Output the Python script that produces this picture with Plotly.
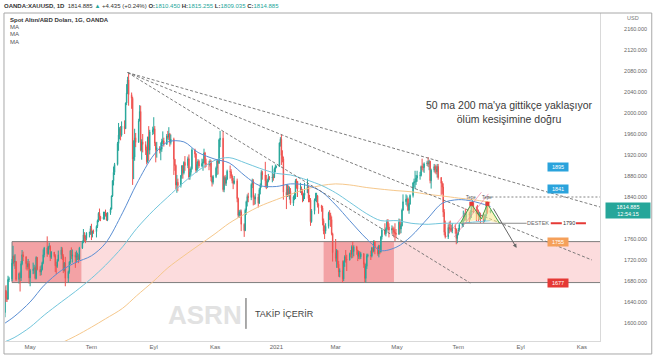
import pandas as pd
import plotly.graph_objects as go

# ---------------- daily candles: (close, high, low); open = previous close ----------------
first_open = 1591.0
apr20 = [(1613,1625,1590),(1620,1627,1605),(1662,1670,1611),(1648,1672,1640),(1645,1660,1640),
         (1683,1690,1645),(1684,1688,1678),(1714,1722,1680),(1727,1747,1712),(1716,1730,1708),
         (1717,1731,1703),(1683,1718,1680),(1694,1696,1675),(1686,1698,1660),(1713,1718,1680),
         (1730,1739,1710),(1726,1736,1718),(1713,1727,1702),(1707,1718,1700),(1713,1722,1703),
         (1686,1718,1675)]
may20 = [(1700,1703,1670),(1702,1715,1693),(1705,1711,1694),(1685,1708,1683),(1725,1727,1683),
         (1702,1723,1700),(1697,1708,1690),(1702,1710,1691),(1715,1717,1700),(1730,1740,1712),
         (1743,1745,1725),(1732,1765,1726),(1745,1747,1730),(1746,1753,1740),(1725,1748,1718),
         (1735,1737,1722),(1728,1735,1725),(1709,1731,1697),(1708,1716,1693),(1719,1722,1705),
         (1730,1738,1717)]
jun20 = [(1739,1745,1722),(1727,1744,1720),(1700,1731,1695),(1714,1716,1698),(1685,1726,1670),
         (1698,1700,1677),(1716,1718,1694),(1737,1739,1712),(1727,1744,1722),(1730,1740,1715),
         (1725,1735,1705),(1727,1738,1715),(1727,1734,1720),(1722,1731,1714),(1743,1745,1720),
         (1754,1757,1741),(1768,1779,1752),(1762,1773,1756),(1761,1767,1752),(1771,1773,1757),
         (1772,1774,1763),(1780,1785,1768)]
jul20 = [(1770,1789,1758),(1775,1776,1763),(1774,1778,1770),(1784,1786,1763),(1795,1797,1781),
         (1809,1811,1792),(1803,1818,1795),(1798,1804,1794),(1802,1812,1797),(1809,1812,1797),
         (1808,1816,1803),(1796,1810,1795),(1810,1811,1794),(1817,1820,1806),(1842,1843,1816),
         (1871,1872,1840),(1887,1898,1862),(1902,1905,1882),(1942,1945,1900),(1958,1981,1928),
         (1970,1973,1950),(1958,1975,1948),(1975,1984,1955)]
aug20 = [(1970,1986,1960),(2019,2020,1970),(2038,2055,2015),(2063,2069,2036),(2035,2075,2014),
         (2028,2039,2008),(1912,2031,1863),(1916,1948,1874),(1953,1970,1909),(1944,1962,1935),
         (1985,1989,1944),(2003,2015,1984),(1929,2014,1927),(1945,1950,1911),(1940,1960,1925),
         (1929,1946,1920),(1907,1936,1902),(1954,1955,1905),(1929,1975,1909),(1964,1968,1921),
         (1968,1974,1958)]
sep20 = [(1970,1992,1960),(1943,1975,1937),(1930,1945,1906),(1934,1945,1915),(1929,1937,1923),
         (1931,1944,1910),(1946,1951,1926),(1947,1965,1941),(1940,1953,1936),(1956,1960,1940),
         (1954,1966,1950),(1960,1973,1948),(1944,1962,1936),(1950,1959,1940),(1912,1953,1882),
         (1900,1912,1890),(1863,1902,1855),(1868,1882,1848),(1862,1875,1851),(1881,1882,1858),
         (1899,1901,1875),(1886,1901,1875)]
oct20 = [(1906,1908,1883),(1900,1918,1890),(1913,1917,1895),(1878,1921,1873),(1887,1894,1873),
         (1894,1898,1882),(1930,1933,1892),(1922,1932,1915),(1891,1924,1886),(1902,1907,1887),
         (1908,1912,1893),(1899,1911,1895),(1904,1913,1897),(1907,1912,1890),(1924,1932,1905),
         (1904,1926,1895),(1902,1913,1897),(1902,1909,1891),(1908,1912,1898),(1878,1910,1870),
         (1868,1880,1860),(1879,1882,1864)]
nov20 = [(1895,1898,1876),(1909,1911,1882),(1904,1911,1883),(1949,1951,1905),(1952,1966,1935),
         (1854,1965,1850),(1877,1880,1849),(1866,1882,1862),(1874,1879,1861),(1889,1892,1872),
         (1888,1900,1875),(1880,1893,1876),(1871,1883,1866),(1866,1876,1855),(1871,1880,1864),
         (1837,1875,1830),(1805,1839,1800),(1811,1815,1800),(1812,1816,1803),(1788,1816,1775),
         (1776,1790,1764)]
dec20 = [(1815,1818,1775),(1831,1833,1806),(1841,1845,1822),(1839,1848,1830),(1864,1866,1834),
         (1871,1875,1857),(1839,1874,1824),(1836,1843,1825),(1840,1847,1826),(1828,1846,1820),
         (1854,1857,1827),(1863,1866,1845),(1887,1891,1858),(1882,1890,1873),(1871,1907,1858),
         (1859,1882,1855),(1870,1874,1857),(1877,1884,1868),(1876,1880,1872),(1878,1900,1868),
         (1877,1884,1871),(1893,1896,1876),(1898,1902,1887)]
jan21 = [(1898,1900,1895),(1943,1944,1900),(1950,1954,1936),(1919,1959,1901),(1913,1929,1906),
         (1849,1917,1835),(1844,1864,1817),(1856,1864,1840),(1845,1862,1841),(1851,1860,1835),
         (1828,1857,1825),(1840,1843,1823),(1840,1849,1834),(1871,1874,1836),(1870,1875,1856),
         (1855,1869,1840),(1856,1867,1848),(1850,1860,1844),(1842,1855,1830),(1843,1847,1832),
         (1848,1867,1836)]
feb21 = [(1860,1875,1848),(1837,1862,1830),(1834,1844,1830),(1793,1838,1785),(1814,1817,1791),
         (1834,1837,1807),(1838,1848,1832),(1842,1848,1830),(1825,1844,1820),(1824,1828,1808),
         (1819,1825,1812),(1795,1823,1786),(1775,1799,1769),(1775,1786,1760),(1784,1790,1770),
         (1809,1812,1780),(1806,1815,1796),(1797,1810,1783),(1770,1803,1767),(1734,1772,1717)]
mar21 = [(1723,1760,1717),(1738,1741,1705),(1712,1738,1705),(1697,1718,1688),(1700,1704,1687),
         (1684,1719,1677),(1716,1719,1680),(1726,1729,1707),(1722,1739,1715),(1720,1730,1699),
         (1732,1734,1719),(1731,1739,1725),(1745,1748,1723),(1736,1755,1724),(1745,1748,1727),
         (1739,1747,1730),(1727,1739,1718),(1734,1737,1722),(1726,1737,1721),(1732,1735,1722),
         (1712,1733,1705),(1685,1715,1677),(1708,1713,1677)]
apr21 = [(1728,1732,1703),(1729,1732,1725),(1728,1738,1720),(1743,1745,1725),(1737,1744,1733),
         (1756,1758,1735),(1744,1756,1731),(1732,1746,1728),(1747,1749,1725),(1736,1748,1731),
         (1764,1766,1734),(1777,1781,1759),(1770,1790,1767),(1779,1782,1765),(1793,1797,1774),
         (1783,1798,1777),(1777,1790,1763),(1780,1786,1770),(1778,1784,1768),(1773,1782,1763),
         (1771,1790,1756),(1769,1779,1762)]
may21 = [(1792,1799,1768),(1779,1798,1770),(1785,1789,1771),(1815,1818,1784),(1831,1845,1814),
         (1836,1845,1825),(1836,1843,1822),(1815,1839,1813),(1826,1829,1808),(1843,1845,1826),
         (1867,1868,1839),(1869,1875,1858),(1869,1890,1855),(1876,1882,1863),(1881,1890,1869),
         (1881,1888,1873),(1898,1900,1879),(1897,1913,1891),(1896,1904,1888),(1903,1906,1886),
         (1905,1909,1899)]
jun21 = [(1903,1916,1897),(1908,1911,1891),(1871,1909,1866),(1891,1894,1856),(1898,1903,1887),
         (1893,1902,1885),(1888,1900,1883),(1898,1903,1877),(1877,1903,1873),(1866,1878,1844),
         (1859,1870,1846),(1811,1866,1802),(1773,1817,1767),(1764,1795,1761),(1782,1788,1760),
         (1779,1793,1771),(1779,1795,1775),(1776,1787,1773),(1781,1790,1771),(1779,1788,1770),
         (1761,1780,1750),(1770,1772,1752)]
jul21 = [(1777,1781,1767),(1787,1791,1774),(1791,1796,1782),(1796,1814,1783),(1803,1810,1794),
         (1802,1818,1795),(1808,1811,1795),(1806,1812,1791),(1809,1815,1797),(1826,1828,1800),
         (1829,1834,1821),(1812,1830,1810),(1812,1822,1794),(1810,1825,1807),(1803,1816,1794),
         (1806,1812,1797),(1802,1810,1790),(1797,1810,1791),(1799,1807,1792),(1806,1807,1795),
         (1829,1832,1803),(1810.45,1832,1808)]
aug21 = [(1814.885,1815.255,1809.035)]

# ---------------- moving averages ----------------
ma_dates = ['2020-04-03','2020-04-15','2020-05-01','2020-05-15','2020-06-01','2020-06-15',
            '2020-07-01','2020-07-15','2020-08-01','2020-08-15','2020-09-01','2020-09-15',
            '2020-10-01','2020-10-15','2020-11-01','2020-11-15','2020-12-01','2020-12-15',
            '2021-01-01','2021-01-15','2021-02-01','2021-02-15','2021-03-01','2021-03-15',
            '2021-04-01','2021-04-15','2021-05-01','2021-05-15','2021-06-01','2021-06-15',
            '2021-07-01','2021-07-15','2021-08-02']
ma50 = [1596,1612,1640,1672,1700,1715,1728,1752,1810,1865,1920,1945,1945,1925,1912,1905,1880,
        1862,1860,1865,1862,1850,1825,1795,1760,1738,1745,1765,1800,1828,1835,1832,1822]
ma100 = [1562,1572,1592,1615,1640,1660,1685,1710,1745,1780,1815,1840,1868,1890,1910,1915,1905,
         1895,1885,1882,1872,1862,1848,1830,1808,1795,1795,1790,1788,1790,1790,1792,1795]
ma200 = [1520,1528,1538,1548,1562,1575,1592,1608,1628,1652,1680,1705,1728,1747,1770,1790,1808,
         1822,1835,1845,1856,1862,1865,1863,1858,1855,1852,1850,1845,1842,1838,1835,1830]

# ---------------- axis ticks ----------------
y_ticks = [1600,1640,1680,1720,1760,1840,1880,1920,1960,2000,2040,2080,2120,2160]
x_tick_dates = ['2020-05-01','2020-07-01','2020-09-01','2020-11-01','2021-01-01',
                '2021-03-01','2021-05-01','2021-07-01','2021-09-01','2021-11-01']
x_tick_text = ['May','Tem','Eyl','Kas','2021','Mar','May','Tem','Eyl','Kas']

# ---------------- drawing objects ----------------
zone_low, zone_high = 1677, 1755
dark_boxes = [('2020-04-13','2020-06-21'),('2021-02-17','2021-04-28')]
trend_start = ('2020-08-06', 2077)
trend_ends = [('2021-11-19',1821),('2021-11-11',1720),('2021-07-13',1676)]
level_labels = [('1895',1898,'#2aa3dc'),('1841',1856,'#2aa3dc'),
                ('1755',1755,'#f5a05a'),('1677',1677,'#e53935')]
resistance = 1840
support = 1790
pattern_x = ['2021-07-03','2021-07-14','2021-07-24','2021-07-30','2021-08-11']
pattern_y = [1790,1827,1798,1827,1790]

# ---------------- build candles ----------------
months = [apr20,may20,jun20,jul20,aug20,sep20,oct20,nov20,dec20,jan21,feb21,
          mar21,apr21,may21,jun21,jul21,aug21]
rows = [r for m in months for r in m]
closes = [r[0] for r in rows]
opens = [first_open] + closes[:-1]
highs = [max(r[1], o, r[0]) for r, o in zip(rows, opens)]
lows = [min(r[2], o, r[0]) for r, o in zip(rows, opens)]
dates = pd.bdate_range('2020-04-02', periods=len(rows))

FONT = 'Liberation Sans'
fig = go.Figure()

# zone + boxes
fig.add_shape(type='rect', xref='x', yref='y', x0='2020-04-13', x1='2022-03-01',
              y0=zone_low, y1=zone_high, fillcolor='#fcdcdd', line_width=0, layer='below')
for a, b in dark_boxes:
    fig.add_shape(type='rect', xref='x', yref='y', x0=a, x1=b, y0=zone_low, y1=zone_high,
                  fillcolor='#f3a2a5', line_width=0, layer='below')
fig.add_shape(type='rect', xref='x', yref='y', x0='2020-04-13', x1='2022-03-01',
              y0=zone_low, y1=zone_high, fillcolor='rgba(0,0,0,0)',
              line=dict(color='#7d7d7d', width=1), layer='below')

# moving averages
for vals, col in [(ma200,'#f6c88c'),(ma100,'#72c6dc'),(ma50,'#5a8ed3')]:
    fig.add_trace(go.Scatter(x=ma_dates, y=vals, mode='lines',
                             line=dict(color=col, width=1, shape='spline', smoothing=0.9),
                             showlegend=False, hoverinfo='skip'))

# trend lines
for ex, ey in trend_ends:
    fig.add_trace(go.Scatter(x=[trend_start[0], ex], y=[trend_start[1], ey], mode='lines',
                             line=dict(color='#6e6e6e', width=0.9, dash='3px,2px'),
                             showlegend=False, hoverinfo='skip'))

# resistance dotted line and support line
fig.add_trace(go.Scatter(x=['2021-07-30','2021-11-25'], y=[resistance, resistance], mode='lines',
                         line=dict(color='#777', width=0.9, dash='2px,2px'),
                         showlegend=False, hoverinfo='skip'))
fig.add_trace(go.Scatter(x=['2021-07-03','2021-09-07'], y=[support, support], mode='lines',
                         line=dict(color='#8c8c8c', width=1), showlegend=False, hoverinfo='skip'))
for a, b in [('2021-10-01','2021-10-12'),('2021-10-26','2021-11-05')]:
    fig.add_trace(go.Scatter(x=[a, b], y=[support, support], mode='lines',
                             line=dict(color='#e53935', width=2), showlegend=False, hoverinfo='skip'))

# double-top pattern
fig.add_trace(go.Scatter(x=pattern_x[0:3] + [pattern_x[0]], y=pattern_y[0:3] + [pattern_y[0]],
                         mode='lines', fill='toself', fillcolor='rgba(250,232,140,0.55)',
                         line=dict(width=0), showlegend=False, hoverinfo='skip'))
fig.add_trace(go.Scatter(x=pattern_x[2:5] + [pattern_x[2]], y=pattern_y[2:5] + [pattern_y[2]],
                         mode='lines', fill='toself', fillcolor='rgba(250,232,140,0.55)',
                         line=dict(width=0), showlegend=False, hoverinfo='skip'))
for a, b in [(('2021-06-19',1764),('2021-07-24',1849)), (('2021-06-27',1764),('2021-07-31',1846))]:
    fig.add_trace(go.Scatter(x=[a[0], b[0]], y=[a[1], b[1]], mode='lines',
                             line=dict(color='rgba(236,110,150,0.75)', width=0.8),
                             showlegend=False, hoverinfo='skip'))

# candles
fig.add_trace(go.Candlestick(x=dates, open=opens, high=highs, low=lows, close=closes,
                             increasing=dict(line=dict(color='#26a69a', width=1), fillcolor='#26a69a'),
                             decreasing=dict(line=dict(color='#ef5350', width=1), fillcolor='#ef5350'),
                             whiskerwidth=0, showlegend=False, hoverinfo='skip'))

fig.add_trace(go.Scatter(x=pattern_x, y=pattern_y, mode='lines',
                         line=dict(color='#43a047', width=1), showlegend=False, hoverinfo='skip'))
fig.add_trace(go.Scatter(x=[pattern_x[1], pattern_x[3]], y=[pattern_y[1], pattern_y[3]],
                         mode='markers', marker=dict(symbol='square', size=4, color='#e53935'),
                         showlegend=False, hoverinfo='skip'))

annotations = []
for i in (1, 3):
    annotations.append(dict(x=pattern_x[i], y=pattern_y[i] + 13, xref='x', yref='y', text='Tepe',
                            showarrow=False, font=dict(size=4.5, color='#555', family=FONT)))
# arrow
annotations.append(dict(x='2021-08-28', y=1743, ax='2021-08-04', ay=1821, axref='x', ayref='y',
                        xref='x', yref='y', text='', showarrow=True, arrowhead=2, arrowsize=0.8,
                        arrowwidth=1, arrowcolor='#666'))
# level labels
for txt, val, col in level_labels:
    annotations.append(dict(x='2021-10-08', y=val, xref='x', yref='y', text=txt, showarrow=False,
                            bgcolor=col, borderpad=1, width=18,
                            font=dict(size=5.5, color='white', family=FONT)))
annotations.append(dict(x='2021-09-18', y=support, xref='x', yref='y', text='DESTEK',
                        showarrow=False, font=dict(size=5.5, color='#666', family=FONT)))
annotations.append(dict(x='2021-10-19', y=support, xref='x', yref='y', text='1790',
                        showarrow=False, font=dict(size=5.5, color='#333', family=FONT)))

# price label on axis
annotations.append(dict(x=1.0, y=closes[-1], xref='paper', yref='y', xanchor='left', yanchor='middle',
                        xshift=5, text='1814.885<br>12:54:15', showarrow=False, bgcolor='#26a69a',
                        width=42, borderpad=1, font=dict(size=5.5, color='white', family=FONT)))
annotations.append(dict(x=1.0555, y=0.985, xref='paper', yref='paper', xanchor='center',
                        yanchor='middle', text='USD', showarrow=False,
                        font=dict(size=5.5, color='#777', family=FONT)))

# header & legend
hdr = ("<b>OANDA:XAUUSD, 1D</b>  1814.885 <span style='color:#26a69a'>▲</span> +4.435 (+0.24%) "
       "<b>O:</b><span style='color:#26a69a'>1810.450</span> <b>H:</b><span style='color:#26a69a'>1815.255</span> "
       "<b>L:</b><span style='color:#26a69a'>1809.035</span> <b>C:</b><span style='color:#26a69a'>1814.885</span>")
annotations.append(dict(x=-0.005, y=1.021, xref='paper', yref='paper', xanchor='left', yanchor='middle',
                        text=hdr, showarrow=False, font=dict(size=6, color='#333', family=FONT)))
annotations.append(dict(x=0.005, y=0.979, xref='paper', yref='paper', xanchor='left', yanchor='middle',
                        text='<b>Spot Altın/ABD Doları, 1G, OANDA</b>', showarrow=False,
                        font=dict(size=6, color='#333', family=FONT)))
for yy in (0.957, 0.935, 0.912):
    annotations.append(dict(x=0.005, y=yy, xref='paper', yref='paper', xanchor='left', yanchor='middle',
                            text='MA', showarrow=False, font=dict(size=6, color='#555', family=FONT)))

# commentary
annotations.append(dict(x=0.847, y=0.698, xref='paper', yref='paper', xanchor='center',
                        yanchor='middle',
                        text="50 ma 200 ma'ya gittikçe yaklaşıyor<br>ölüm kesişimine doğru",
                        showarrow=False, align='center',
                        font=dict(size=10.5, color='#3a3a3a', family=FONT)))
# watermark
annotations.append(dict(x=0.336, y=0.078, xref='paper', yref='paper', xanchor='center',
                        yanchor='middle', text='<b>ASRN</b>',
                        showarrow=False, font=dict(size=26, color='#e2e2e2', family=FONT)))
annotations.append(dict(x=0.4168, y=0.082, xref='paper', yref='paper', xanchor='left',
                        yanchor='middle', text='TAKİP İÇERİR', showarrow=False,
                        font=dict(size=9, color='#444', family=FONT)))

fig.add_shape(type='line', xref='paper', yref='paper', x0=0.405, x1=0.405, y0=0.037, y1=0.131,
              line=dict(color='#555', width=1))
# outer frame
fig.add_shape(type='rect', xref='paper', yref='paper', x0=-0.0017, x1=1.087, y0=-0.0396, y1=1.0,
              line=dict(color='#a8a8a8', width=1), fillcolor='rgba(0,0,0,0)')

fig.update_layout(
    width=654, height=358, margin=dict(l=5, r=54, t=13, b=17),
    paper_bgcolor='white', plot_bgcolor='white',
    font=dict(family=FONT, size=6, color='#555'),
    annotations=annotations, showlegend=False,
    xaxis=dict(type='date', range=['2020-04-06', '2021-11-19'], rangeslider=dict(visible=False),
               tickvals=x_tick_dates, ticktext=x_tick_text, showgrid=False, zeroline=False,
               tickfont=dict(size=6, color='#666'), ticks='', showline=True, linecolor='#d9d9d9',
               linewidth=1),
    yaxis=dict(side='right', range=[1565.7, 2190.5], tickvals=y_ticks, tickformat='.3f',
               showgrid=False, zeroline=False, tickfont=dict(size=5.5, color='#666'), ticks='',
               ticklabelstandoff=22, showline=True, linecolor='#d9d9d9', linewidth=1),
)

fig.write_html('out.html', config={'displayModeBar': False},
               post_script="document.body.style.margin='0px';document.body.style.padding='0px';")
